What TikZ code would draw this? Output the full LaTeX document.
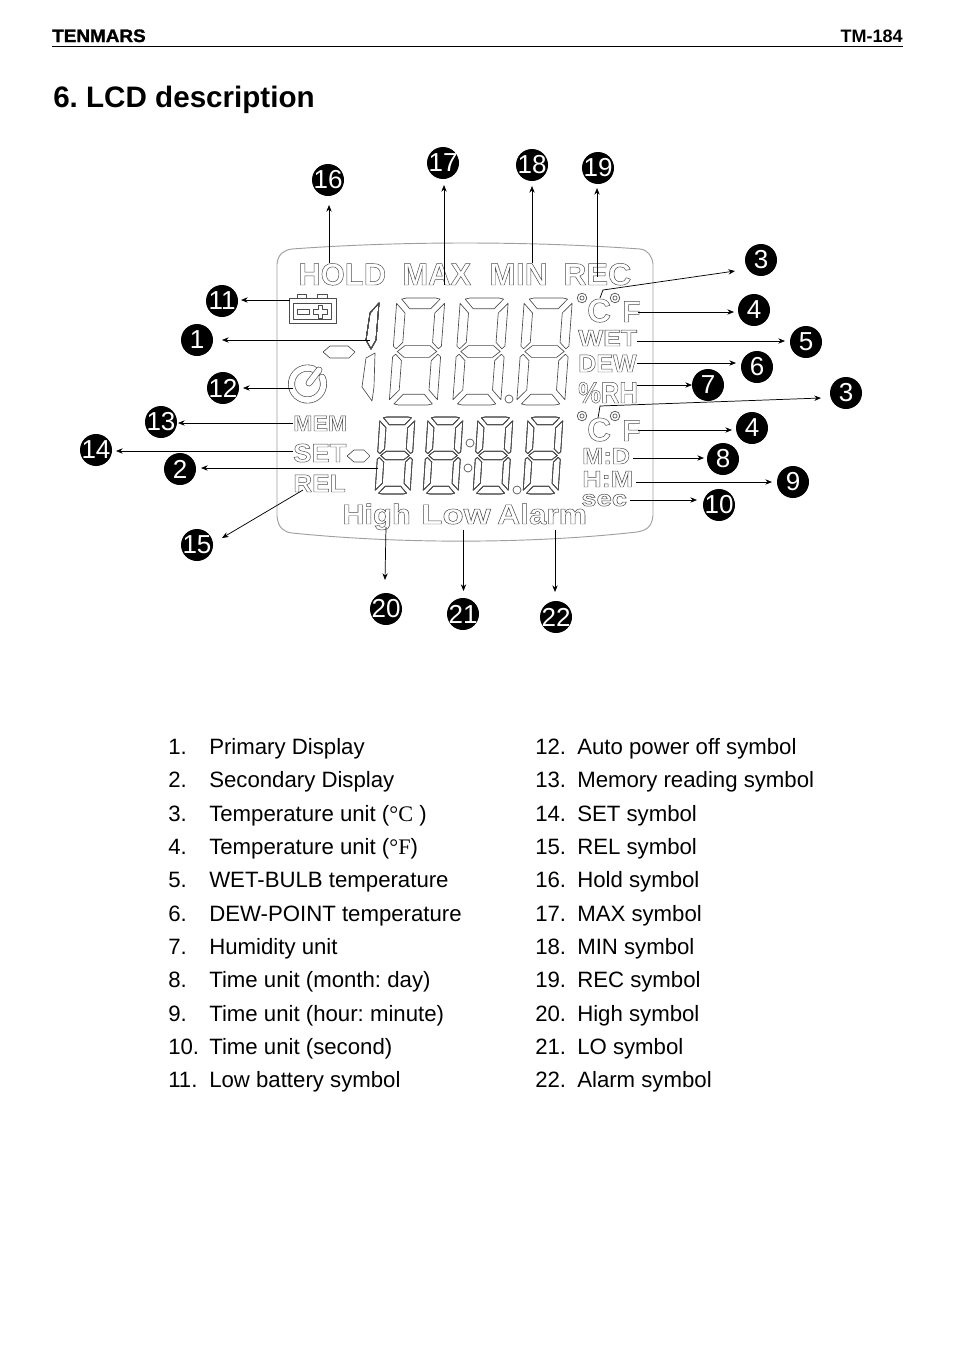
\documentclass[tikz,border=0pt]{standalone}
\usepackage{fontspec}
\usepackage{graphicx}
\setmainfont{Liberation Sans}
\newfontfamily\unitfont{Liberation Serif}
\usetikzlibrary{arrows.meta}
\frenchspacing

% px sizes, the picture runs in pixels of the page
\newcommand{\lcdtxt}[3]{\scalebox{#2}[1]{\fontsize{\dimexpr#1pt*3/4\relax}{\dimexpr#1pt\relax}\selectfont\bfseries\special{pdf: code q 1 Tr 0.36 w 0.3 G}#3\special{pdf: code Q}}}

\tikzstyle{lcdlabel} = [inner sep=0pt, anchor=base west, text=lcdline]
\tikzstyle{callout} = [circle, fill=black, text=white, inner sep=-2pt, minimum size=24pt,
    font=\fontsize{19.5}{20}\selectfont]
\tikzstyle{lead} = [draw=black, line width=0.55pt, -{Stealth[length=5pt,width=4pt]}]
\tikzstyle{seg} = [draw=lcdline, line width=0.5pt, line join=round]
\tikzstyle{item} = [inner sep=0pt, anchor=base west, font=\fontsize{16.65}{20}\selectfont]
\definecolor{lcdline}{gray}{0.3}

% seven segments; #1,#2 lower left, #3 width, #4 half height, #5 slant
\newcommand{\lcddigit}[5]{%
\begin{scope}[shift={(#1,#2)},x={(#3*0.75pt,0pt)},y={(#5*0.75pt,#4*0.75pt)}]
\draw[seg] (.1,1.98)--(.2,2)--(.8,2)--(.9,1.98)--(.72,1.8)--(.28,1.8)--cycle;
\draw[seg] (0,1.9)--(.19,1.72)--(.19,1.17)--(.06,1.05)--(0,1.1)--cycle;
\draw[seg] (1,1.9)--(.81,1.72)--(.81,1.17)--(.94,1.05)--(1,1.1)--cycle;
\draw[seg] (.09,1)--(.24,1.11)--(.76,1.11)--(.91,1)--(.76,.89)--(.24,.89)--cycle;
\draw[seg] (0,.9)--(.06,.95)--(.19,.83)--(.19,.28)--(0,.1)--cycle;
\draw[seg] (1,.9)--(.94,.95)--(.81,.83)--(.81,.28)--(1,.1)--cycle;
\draw[seg] (.1,.02)--(.2,0)--(.8,0)--(.9,.02)--(.72,.2)--(.28,.2)--cycle;
\end{scope}}

\begin{document}
\begin{tikzpicture}[x=0.75pt,y=-0.75pt]
\useasboundingbox (0,0) rectangle (954,1349);

% page head
\node[inner sep=0pt, anchor=base west] (logo) at (52,42)
    {\scalebox{1.05}[1]{\fontsize{13.5}{14}\selectfont\bfseries\special{pdf: code q 2 Tr 0.2 w}TENMARS\special{pdf: code Q}}};
\node[inner sep=0pt, anchor=base east, font=\fontsize{13.5}{14}\selectfont\bfseries] (model) at (903,42) {TM-184};
\coordinate (ruleL) at (52,46);
\coordinate (ruleR) at (903,46);
\draw[line width=0.7pt] (ruleL) -- (ruleR);
\node[inner sep=0pt, anchor=base west, font=\fontsize{22.2}{26}\selectfont\bfseries] (title) at (53,107) {6. LCD description};

% lcd outline
\draw[gray!75, line width=0.7pt] (277,264) .. controls (278,254) and (284,250) .. (292,249)
    .. controls (400,241) and (530,241) .. (640,249)
    .. controls (648,250) and (652,256) .. (653,264)
    -- (653,515) .. controls (652,526) and (648,530) .. (637,532)
    .. controls (530,544) and (400,544) .. (292,533)
    .. controls (284,532) and (278,528) .. (277,516) -- cycle;

% symbols
\node[lcdlabel] (hold) at (298,285) {\lcdtxt{31}{1}{HOLD}};
\node[lcdlabel] (max) at (402,285) {\lcdtxt{31}{1}{MAX}};
\node[lcdlabel] (min) at (489,285) {\lcdtxt{31}{1.03}{MIN}};
\node[lcdlabel] (rec) at (563,285) {\lcdtxt{31}{1.04}{REC}};
\node[lcdlabel] (celsA) at (587,322) {\lcdtxt{33}{1}{C}};
\node[lcdlabel] (fahrA) at (622,322) {\lcdtxt{30}{1}{F}};
\node[lcdlabel] (wet) at (578,346) {\lcdtxt{23}{1.15}{WET}};
\node[lcdlabel] (dew) at (578,372) {\lcdtxt{25}{1}{DEW}};
\node[lcdlabel] (rh) at (578,403) {\lcdtxt{30}{.85}{\%RH}};
\node[lcdlabel] (celsB) at (587,441) {\lcdtxt{33}{1}{C}};
\node[lcdlabel] (fahrB) at (622,441) {\lcdtxt{30}{1}{F}};
\node[lcdlabel] (mem) at (293,431) {\lcdtxt{22}{1.05}{MEM}};
\node[lcdlabel] (set) at (293,462) {\lcdtxt{26}{1.05}{SET}};
\node[lcdlabel] (rel) at (293,492) {\lcdtxt{25}{1.05}{REL}};
\node[lcdlabel] (high) at (342,524) {\lcdtxt{28}{1.1}{High}};
\node[lcdlabel] (low) at (421,524) {\lcdtxt{28}{1.24}{Low}};
\node[lcdlabel] (alarm) at (497,524) {\lcdtxt{28}{1.13}{Alarm}};
\node[lcdlabel] (md) at (582,464) {\lcdtxt{23}{1.1}{M:D}};
\node[lcdlabel] (hm) at (582,487) {\lcdtxt{23}{1.17}{H:M}};
\node[lcdlabel] (sec) at (581,506) {\lcdtxt{22}{1.25}{sec}};

% degree rings and dots
\foreach \x/\y in {582/298,615/298,582/416,615/416}{
    \draw[seg] (\x,\y) circle[radius=3.6pt];
    \draw[seg] (\x,\y) circle[radius=1.6pt];
}
\foreach \x/\y in {509/399,470/443,468/468,517/490}
    \draw[seg] (\x,\y) circle[radius=3pt];

% digits
\foreach \x in {389,452.5,516.5}
    \lcddigit{\x}{405}{48}{53.5}{4}
\foreach \x in {375,423,473,523}
    \lcddigit{\x}{494}{35}{38.5}{2.5}
\draw[seg] (379,303)--(370,313)--(366,340)--(371,349)--(376,340)--cycle;
\draw[seg] (375,353)--(366,358)--(362,387)--(372,401)--(374,387)--cycle;
\draw[seg] (323,352)--(330,346)--(348,346)--(355,352)--(349,358)--(330,358)--cycle;
\draw[seg] (347,456)--(354,450)--(364,450)--(370,456)--(364,462)--(354,462)--cycle;

% battery
\draw[seg] (297,298)--(297,294)--(306,294)--(306,298) (317,298)--(317,294)--(327,294)--(327,298);
\draw[seg, line width=0.7pt] (289,298) rectangle (336,323);
\draw[seg] (293,303) rectangle (331,319);
\draw[seg] (297,309) rectangle (309,314);
\draw[seg] (313,309)--(318,309)--(318,305)--(322,305)--(322,309)--(327,309)--(327,314)--(322,314)--(322,318)--(318,318)--(318,314)--(313,314)--cycle;

% power symbol
\draw[lcdline, line width=0.5pt, double=white, double distance=4.2pt, line cap=round]
    (307.5,384) ++(-25:16) arc[start angle=-25,end angle=293,radius=16];
\draw[lcdline, line width=0.5pt, double=white, double distance=4pt, line cap=round] (309,383) -- (319,370);

% callouts
\foreach \nm/\x/\y/\txt in {n16/328/180/16,n17/443/163/17,n18/532/165/18,n19/598/168/19,
    n3a/761/260/3,n11/222/301/11,n4a/754/310/4,n1/197/340/1,n5/806/342/5,n6/757/367/6,
    n12/223/388/12,n7/708/385/7,n3b/846/393/3,n13/161/422/13,n4b/752/428/4,n14/96/450/14,
    n8/723/459/8,n2/180/469/2,n9/793/482/9,n10/719/505/10,n15/197/545/15,n20/386/609/20,
    n21/463/614/21,n22/556/617/22}
    \node[callout] (\nm) at (\x,\y) {\txt};

% starts of the leaders
\foreach \nm/\x/\y in {s16/329/263,s17/444/285,s18/532/263,s19/597/277,s11/290/300,s1/370/340,
    s4a/638/312,s5/637/341,s6/637/363,s12/293/388,s7/637/385,s4b/638/430,s13/293/423,
    s14/293/451,s2/378/468,s8/633/458,s9/636/482,s10/630/500,s15/303/490,s20/386/527,
    s21/463.5/530,s22/555/530,s3a/600/298,k3a/603/290,s3b/598/418,k3b/600/406}
    \coordinate (\nm) at (\x,\y);

% leaders
\draw[lead] (s16) -- ([shift={(1,25)}]n16.center);
\draw[lead] (s17) -- ([shift={(1,22)}]n17.center);
\draw[lead] (s18) -- ([shift={(0,21)}]n18.center);
\draw[lead] (s19) -- ([shift={(-1,20)}]n19.center);
\draw[lead] (s3a) -- (k3a) -- ([shift={(-26,11)}]n3a.center);
\draw[lead] (s3b) -- (k3b) -- ([shift={(-25,5)}]n3b.center);
\draw[lead] (s11) -- ([shift={(19,-1)}]n11.center);
\draw[lead] (s1) -- ([shift={(25,0)}]n1.center);
\draw[lead] (s4a) -- ([shift={(-20,2)}]n4a.center);
\draw[lead] (s5) -- ([shift={(-21,-1)}]n5.center);
\draw[lead] (s6) -- ([shift={(-21,-4)}]n6.center);
\draw[lead] (s12) -- ([shift={(20,0)}]n12.center);
\draw[lead] (s7) -- ([shift={(-16,0)}]n7.center);
\draw[lead] (s4b) -- ([shift={(-20,2)}]n4b.center);
\draw[lead] (s13) -- ([shift={(17,1)}]n13.center);
\draw[lead] (s14) -- ([shift={(20,1)}]n14.center);
\draw[lead] (s2) -- ([shift={(21,-1)}]n2.center);
\draw[lead] (s8) -- ([shift={(-19,-1)}]n8.center);
\draw[lead] (s9) -- ([shift={(-21,0)}]n9.center);
\draw[lead] (s10) -- ([shift={(-22,-5)}]n10.center);
\draw[lead] (s15) -- ([shift={(25,-7)}]n15.center);
\draw[lead] (s20) -- ([shift={(-1,-29)}]n20.center);
\draw[lead] (s21) -- ([shift={(0.5,-23)}]n21.center);
\draw[lead] (s22) -- ([shift={(-1,-25)}]n22.center);

% legend, left column
\foreach \y/\k/\txt in {754/1./Primary Display,787/2./Secondary Display,
    821/3./{Temperature unit ({\unitfont °C} )},854/4./{Temperature unit ({\unitfont °F})},
    887/5./WET-BULB temperature,921/6./DEW-POINT temperature,954/7./Humidity unit,
    987/8./Time unit (month: day),1021/9./Time unit (hour: minute),
    1054/10./Time unit (second),1087/11./Low battery symbol}{
    \node[item] at (168,\y) {\k};
    \node[item] at (209,\y) {\txt};
}
% legend, right column
\foreach \y/\k/\txt in {754/12./Auto power off symbol,787/13./Memory reading symbol,
    821/14./SET symbol,854/15./REL symbol,887/16./Hold symbol,921/17./MAX symbol,
    954/18./MIN symbol,987/19./REC symbol,1021/20./High symbol,1054/21./LO symbol,
    1087/22./Alarm symbol}{
    \node[item] at (535,\y) {\k};
    \node[item] at (577,\y) {\txt};
}
\end{tikzpicture}
\end{document}
